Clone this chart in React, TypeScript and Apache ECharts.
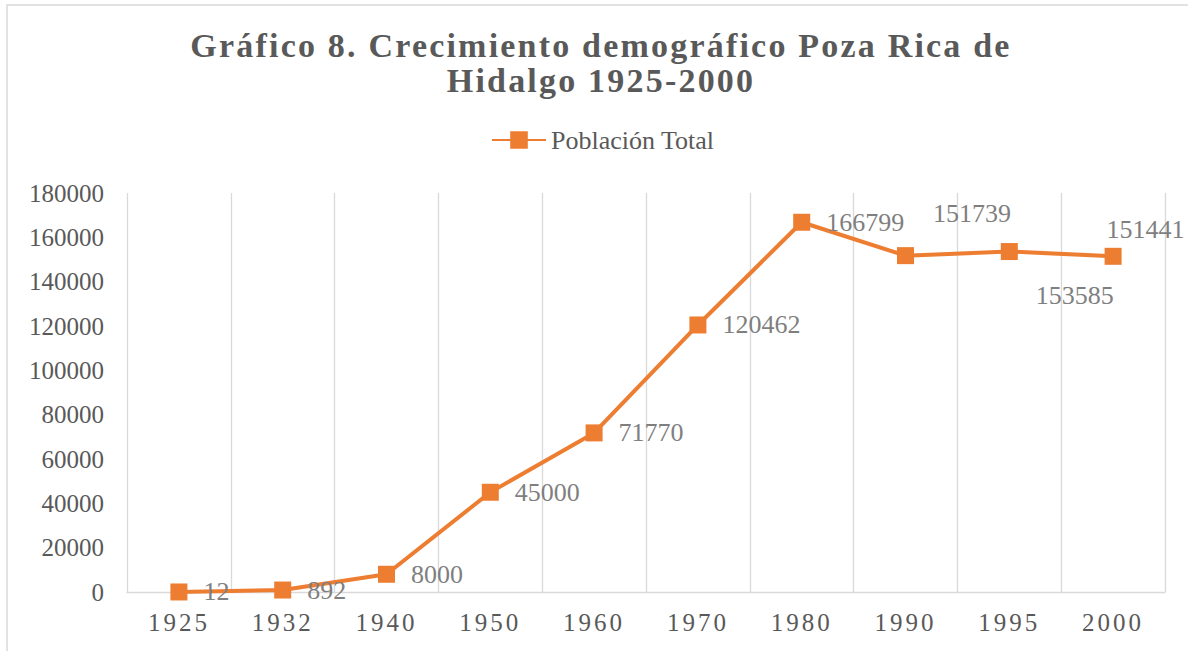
import React, { useEffect, useRef } from "react";
import * as echarts from "echarts";

const titleLines = ["Gráfico 8. Crecimiento demográfico Poza Rica de", "Hidalgo 1925-2000"];
const seriesName = "Población Total";
const years = ["1925", "1932", "1940", "1950", "1960", "1970", "1980", "1990", "1995", "2000"];
const population = [12, 892, 8000, 45000, 71770, 120462, 166799, 151739, 153585, 151441];
const yMin = 0;
const yMax = 180000;
const yStep = 20000;

// manual label moves (as in the original chart)
const labelShift: Record<number, [number, number]> = {
  7: [3, -42],
  8: [2, 44],
  9: [-31, -27],
};

const FONT = "Liberation Serif, Times New Roman, serif";
const ORANGE = "#ED7D31";
const GRAY = "#595959";
const GRID = "#d9d9d9";

export default function App() {
  const ref = useRef<HTMLDivElement>(null);
  useEffect(() => {
    const el = ref.current!;
    const chart = echarts.init(el, null, { renderer: "svg" });
    const data = population.map((v, i) =>
      labelShift[i] ? { value: v, label: { offset: labelShift[i] } } : v
    );
    chart.setOption({
      animation: false,
      backgroundColor: "#ffffff",
      title: {
        text: titleLines.join("\n"),
        left: 596,
        textAlign: "center",
        top: 23,
        textStyle: {
          fontFamily: FONT,
          fontWeight: "bold",
          fontSize: 34,
          lineHeight: 35,
          color: GRAY,
        },
      },
      legend: {
        top: 127,
        left: 491,
        padding: 0,
        itemWidth: 54,
        itemHeight: 22,
        itemGap: 10,
        textStyle: { fontFamily: FONT, fontSize: 26, color: GRAY },
        data: [seriesName],
      },
      graphic: [
        {
          type: "rect",
          z: -10,
          silent: true,
          shape: { x: 7, y: 5, width: 1400, height: 900 },
          style: { fill: "none", stroke: GRID, lineWidth: 1.5 },
        },
      ],
      grid: { left: 127, right: 23, top: 193, bottom: 59, containLabel: false },
      xAxis: {
        type: "category",
        data: years,
        boundaryGap: true,
        axisLine: { show: true, lineStyle: { color: GRID, width: 1.3 } },
        axisTick: { show: false },
        axisLabel: { fontFamily: FONT, fontSize: 25, color: GRAY, margin: 18, interval: 0 },
        splitLine: { show: true, lineStyle: { color: GRID, width: 1.3 } },
      },
      yAxis: {
        type: "value",
        min: yMin,
        max: yMax,
        interval: yStep,
        axisLine: { show: false },
        axisTick: { show: false },
        splitLine: { show: false },
        axisLabel: {
          fontFamily: FONT,
          fontSize: 25,
          color: GRAY,
          margin: 23,
          formatter: (v: number) => String(v),
        },
      },
      series: [
        {
          name: seriesName,
          type: "line",
          data,
          symbol: "rect",
          symbolSize: 17,
          lineStyle: { color: ORANGE, width: 4 },
          itemStyle: { color: ORANGE },
          label: {
            show: true,
            position: "right",
            distance: 16,
            fontFamily: FONT,
            fontSize: 26,
            color: "#7f7f7f",
          },
        },
      ],
    });

    const applySpacing = () => {
      el.querySelectorAll("text").forEach((t) => {
        const s = t.textContent || "";
        if (titleLines.includes(s)) {
          t.setAttribute("letter-spacing", "2.2");
          (t as any).style.letterSpacing = "2.2px";
        } else if (years.includes(s)) {
          t.setAttribute("letter-spacing", "3");
          (t as any).style.letterSpacing = "3px";
        }
      });
    };
    applySpacing();
    chart.on("finished", applySpacing);
    const timer = setTimeout(applySpacing, 50);
    return () => {
      clearTimeout(timer);
      chart.dispose();
    };
  }, []);
  return (
    <div
      ref={ref}
      style={{ position: "fixed", left: 0, top: 0, width: 1188, height: 651, background: "#fff" }}
    />
  );
}
